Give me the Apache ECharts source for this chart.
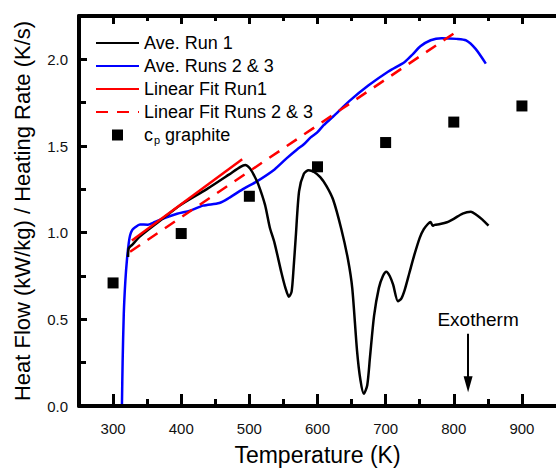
<!DOCTYPE html>
<html>
<head>
<meta charset="utf-8">
<script src="https://cdn.jsdelivr.net/npm/echarts@6/dist/echarts.min.js"></script>
<style>html,body{margin:0;padding:0;background:#fff;}#c{width:556px;height:471px;background:#fff;}</style>
</head>
<body>
<div id="c"></div>
<script>
// ---- data ----
const run1T = [322, 323, 328, 340, 366, 399, 437, 470, 487, 494, 501, 507, 513, 523, 530, 537, 547, 553, 558, 562, 565, 568, 573, 580, 587, 595, 604, 613, 623, 635, 645, 651, 658, 663, 668, 673, 677, 683, 690, 696, 701, 706, 711, 718, 723, 728, 735, 742, 750, 756, 762, 766, 769, 772, 780, 790, 800, 813, 825, 834, 842, 851];
const run1Y = [0.86, 0.91, 0.93, 0.98, 1.06, 1.16, 1.25, 1.335, 1.38, 1.39, 1.37, 1.33, 1.28, 1.16, 1.03, 0.94, 0.77, 0.68, 0.63, 0.66, 0.80, 0.97, 1.24, 1.34, 1.36, 1.35, 1.32, 1.27, 1.19, 1.02, 0.84, 0.68, 0.32, 0.15, 0.07, 0.12, 0.28, 0.52, 0.68, 0.75, 0.775, 0.75, 0.70, 0.605, 0.62, 0.67, 0.77, 0.87, 0.97, 1.02, 1.05, 1.062, 1.04, 1.045, 1.05, 1.06, 1.08, 1.11, 1.12, 1.10, 1.075, 1.04];
const run23T = [313, 314, 315.7, 318, 320.5, 323, 325, 328, 332, 339.5, 351, 358.6, 370, 394, 413, 432, 456, 470, 490, 508.6, 537, 555, 570, 580, 590, 600, 609, 623, 647, 675, 704, 728, 740, 751, 766, 782, 804, 818, 832, 847];
const run23Y = [0.0, 0.25, 0.53, 0.72, 0.85, 0.94, 0.985, 1.015, 1.03, 1.047, 1.046, 1.057, 1.076, 1.109, 1.127, 1.156, 1.171, 1.2, 1.25, 1.29, 1.365, 1.43, 1.48, 1.51, 1.55, 1.58, 1.62, 1.67, 1.76, 1.85, 1.93, 1.985, 2.03, 2.075, 2.11, 2.122, 2.118, 2.109, 2.06, 1.975];
const fit1T = [327.6, 489.5];
const fit1Y = [0.955, 1.423];
const fit23T = [325, 801];
const fit23Y = [0.89, 2.152];
const cpT = [300, 400, 500, 600, 700, 800, 900];
const cpY = [0.71, 0.995, 1.21, 1.38, 1.52, 1.638, 1.731];
const xMajor = [300, 400, 500, 600, 700, 800, 900];
const xMinor = [350, 450, 550, 650, 750, 850];
const names = ['Ave. Run 1', 'Ave. Runs 2 & 3', 'Linear Fit Run1', 'Linear Fit Runs 2 & 3', 'cp graphite'];
const exoT = 821;
const exoY = [0.417, 0.126];

const zip = (a, b) => a.map((v, i) => [v, b[i]]);
const FONT = "'Liberation Sans', Arial, sans-serif";

function xAx(pos, ticks, len, line, labels) {
  return {
    type: 'value', position: pos, min: 250, max: 950, interval: 50, z: 10,
    axisLine: { show: line, onZero: false, lineStyle: { color: '#000', width: 4 } },
    axisTick: { show: true, inside: true, length: len, customValues: ticks, lineStyle: { color: '#000', width: 3 } },
    axisLabel: labels ? { show: true, customValues: xMajor, fontSize: 15, color: '#111', margin: 15, fontFamily: FONT } : { show: false },
    splitLine: { show: false }
  };
}

const xa0 = xAx('bottom', xMajor, 12, true, true);
xa0.name = 'Temperature (K)';
xa0.nameLocation = 'middle';
xa0.nameGap = 37;
xa0.nameTextStyle = { fontSize: 23, color: '#000', fontFamily: FONT };

const hideSym = { opacity: 0 };
const chart = echarts.init(document.getElementById('c'), null, { renderer: 'svg' });
chart.setOption({
  animation: false,
  title: { text: ' ', left: 300, top: 200, textStyle: { fontSize: 10 } },
  grid: { left: 79, right: -13, top: 16, bottom: 62 },
  xAxis: [xa0, xAx('bottom', xMinor, 7, false, false), xAx('top', xMajor, 8, true, false), xAx('top', xMinor, 5, false, false)],
  yAxis: {
    type: 'value', min: 0, max: 2.25, interval: 0.5, z: 10,
    name: 'Heat Flow (kW/kg) / Heating Rate (K/s)', nameLocation: 'middle', nameGap: 46,
    nameTextStyle: { fontSize: 22, color: '#000', fontFamily: FONT },
    axisLine: { show: true, onZero: false, lineStyle: { color: '#000', width: 4 } },
    axisTick: { show: true, inside: true, length: 8, lineStyle: { color: '#000', width: 3 } },
    minorTick: { show: true, splitNumber: 2, length: 7, lineStyle: { color: '#000', width: 3 } },
    axisLabel: { fontSize: 15, color: '#111', margin: 11, showMaxLabel: false, formatter: v => v.toFixed(1), fontFamily: FONT },
    splitLine: { show: false }, minorSplitLine: { show: false }
  },
  legend: {
    orient: 'vertical', left: 95, top: 34, padding: 0,
    itemWidth: 43, itemHeight: 11, itemGap: 5,
    data: [
      { name: names[0], itemStyle: hideSym }, { name: names[1], itemStyle: hideSym },
      { name: names[2], itemStyle: hideSym }, { name: names[3], itemStyle: hideSym },
      { name: names[4], icon: 'path://M0,0 h10 v10 h-10 z' }
    ],
    formatter: n => n === names[4] ? '{a|c}{s|p}{a| graphite}' : '{a|' + n + '}',
    textStyle: {
      color: '#000', fontSize: 18,
      rich: { a: { fontSize: 18, color: '#000', fontFamily: FONT }, s: { fontSize: 11, color: '#000', padding: [9, 0, 0, 1], fontFamily: FONT } }
    }
  },
  series: [
    { name: names[1], type: 'line', data: zip(run23T, run23Y), symbol: 'none', smooth: 0.25,
      lineStyle: { color: '#0000ff', width: 2.5 }, itemStyle: { color: '#0000ff' } },
    { name: names[0], type: 'line', data: zip(run1T, run1Y), symbol: 'none', smooth: 0.25,
      lineStyle: { color: '#000', width: 2.5 }, itemStyle: { color: '#000' },
      markLine: {
        silent: true, animation: false,
        lineStyle: { color: '#000', width: 2, type: 'solid' },
        label: { show: true, position: 'start', formatter: 'Exotherm', fontSize: 19, color: '#000', distance: 5, padding: [0, 0, 0, 20], fontFamily: FONT },
        data: [[
          { coord: [exoT, exoY[0]], symbol: 'none' },
          { coord: [exoT, exoY[1]], symbol: 'triangle', symbolSize: [9, 16] }
        ]]
      }
    },
    { name: names[2], type: 'line', data: zip(fit1T, fit1Y), symbol: 'none',
      lineStyle: { color: '#ff0000', width: 2.5 }, itemStyle: { color: '#ff0000' } },
    { name: names[3], type: 'line', data: zip(fit23T, fit23Y), symbol: 'none',
      lineStyle: { color: '#ff0000', width: 2.5, type: [12, 9] }, itemStyle: { color: '#ff0000' } },
    { name: names[4], type: 'scatter', data: zip(cpT, cpY), symbol: 'rect', symbolSize: 11,
      itemStyle: { color: '#000', opacity: 1 } }
  ]
});
</script>
</body>
</html>
